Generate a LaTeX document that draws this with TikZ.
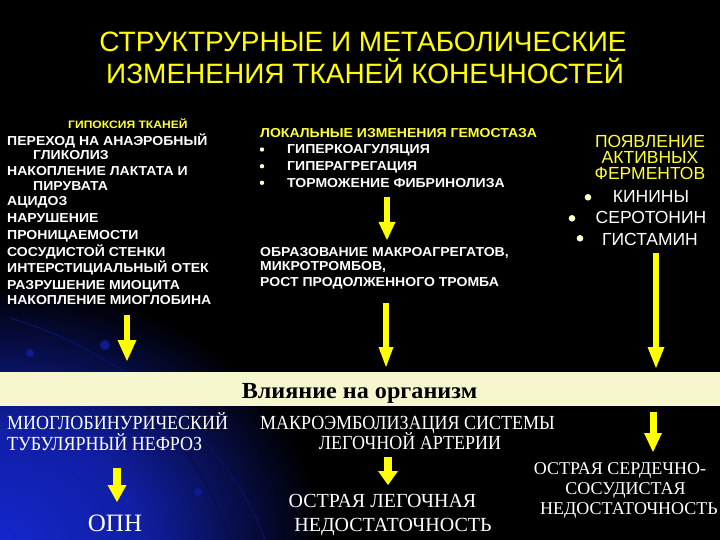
\documentclass[tikz,border=0pt]{standalone}
\usepackage{fontspec}
\setmainfont{Liberation Sans}
\newfontfamily\sanswide[FakeStretch=1.08]{Liberation Sans}
\newfontfamily\sanswidesm[FakeStretch=1.12]{Liberation Sans}
\newfontfamily\serifcyr{Liberation Serif}
\newfontfamily\serifnarrow[FakeStretch=0.9]{Liberation Serif}
\newfontfamily\serifwide[FakeStretch=1.05]{Liberation Serif}
\usetikzlibrary{arrows.meta}
\definecolor{titley}{HTML}{FFFF00}
\definecolor{heady}{HTML}{FFFF33}
\definecolor{bandc}{HTML}{F7F7CF}
\definecolor{bulc}{HTML}{FFFFCC}
\definecolor{glowc}{rgb}{0.08,0.15,0.8}
\definecolor{arry}{HTML}{FFFF00}
\pgfdeclareradialshading{glowsh}{\pgfpoint{0bp}{0bp}}{color(0bp)=(glowc); color(7bp)=(glowc!80!black); color(16bp)=(black); color(50bp)=(black)}
\begin{document}
\begin{tikzpicture}[x=1pt,y=-1pt,
  t/.style={inner sep=0pt, anchor=base west, text=white},
  tc/.style={inner sep=0pt, anchor=base, text=white},
  titlef/.style={font=\fontsize{28}{32}\selectfont},
  bsans/.style={font=\sanswide\fontsize{13}{14}\selectfont\bfseries},
  bsanssm/.style={font=\sanswidesm\fontsize{10.8}{13}\selectfont\bfseries},
  rsans/.style={font=\fontsize{17.5}{20}\selectfont},
  sern/.style={font=\serifnarrow\fontsize{20}{23}\selectfont},
  ser/.style={font=\serifcyr\fontsize{20}{23}\selectfont},
  sersm/.style={font=\serifcyr\fontsize{18}{21}\selectfont},
  serbig/.style={font=\serifcyr\fontsize{25}{28}\selectfont},
  bandt/.style={font=\serifwide\fontsize{23}{26}\selectfont\bfseries},
  yarr/.style n args={3}{draw=arry, line width=#1, -{Triangle[width=#2, length=#3, line width=0pt]}},
  bul/.style={fill=bulc}
]
\useasboundingbox (0,0) rectangle (720,540);
\fill[black] (0,0) rectangle (720,540);
\begin{scope}
\clip (0,0) rectangle (720,540);
\shade[shading=glowsh] (-500,140) rectangle (500,940);
\draw[glowc!45!black, line width=1.5pt] (10,318) .. controls (120,350) and (230,440) .. (265,540);
\draw[glowc!35!black, line width=1.2pt] (40,345) .. controls (140,380) and (200,450) .. (230,540);
\fill[glowc!70!black] (30,353) circle (4);
\fill[glowc!70!black] (105,345) circle (5);
\fill[glowc!70!black] (198,492) circle (4);
\end{scope}

% title
\node[tc, titlef, text=titley] (t1) at (363,51.7) {СТРУКТРУРНЫЕ И МЕТАБОЛИЧЕСКИЕ};
\node[tc, titlef, text=titley] (t2) at (365,83.3) {ИЗМЕНЕНИЯ ТКАНЕЙ КОНЕЧНОСТЕЙ};

% left column
\node[t, bsanssm, text=heady] (hyp) at (68,129) {ГИПОКСИЯ ТКАНЕЙ};
\node[t, bsans] (l1) at (7,145.5) {ПЕРЕХОД НА АНАЭРОБНЫЙ};
\node[t, bsans] (l2) at (33,159.8) {ГЛИКОЛИЗ};
\node[t, bsans] (l3) at (7,176) {НАКОПЛЕНИЕ ЛАКТАТА И};
\node[t, bsans] (l4) at (33,190.3) {ПИРУВАТА};
\node[t, bsans] (l5) at (7,205.7) {АЦИДОЗ};
\node[t, bsans] (l6) at (7,222.3) {НАРУШЕНИЕ};
\node[t, bsans] (l7) at (7,239.3) {ПРОНИЦАЕМОСТИ};
\node[t, bsans] (l8) at (7,256) {СОСУДИСТОЙ СТЕНКИ};
\node[t, bsans] (l9) at (7,272.3) {ИНТЕРСТИЦИАЛЬНЫЙ ОТЕК};
\node[t, bsans] (l10) at (7,289) {РАЗРУШЕНИЕ МИОЦИТА};
\node[t, bsans] (l11) at (7,304.5) {НАКОПЛЕНИЕ МИОГЛОБИНА};

% middle column
\node[t, bsans, text=heady] (gem) at (260,137.3) {ЛОКАЛЬНЫЕ ИЗМЕНЕНИЯ ГЕМОСТАЗА};
\fill[bul] (262,149.5) circle (2.2);
\fill[bul] (262,166.2) circle (2.2);
\fill[bul] (262,182.8) circle (2.2);
\node[t, bsans] (g1) at (287,154) {ГИПЕРКОАГУЛЯЦИЯ};
\node[t, bsans] (g2) at (287,170.7) {ГИПЕРАГРЕГАЦИЯ};
\node[t, bsans] (g3) at (287,187.3) {ТОРМОЖЕНИЕ ФИБРИНОЛИЗА};
\node[t, bsans] (m1) at (260,256) {ОБРАЗОВАНИЕ МАКРОАГРЕГАТОВ,};
\node[t, bsans] (m2) at (260,270.7) {МИКРОТРОМБОВ,};
\node[t, bsans] (m3) at (260,286) {РОСТ ПРОДОЛЖЕННОГО ТРОМБА};

% right column
\node[tc, rsans, text=heady] (r1) at (650,147.5) {ПОЯВЛЕНИЕ};
\node[tc, rsans, text=heady] (r2) at (650,163.5) {АКТИВНЫХ};
\node[tc, rsans, text=heady] (r3) at (650,179.5) {ФЕРМЕНТОВ};
\fill[bul] (588,197.3) circle (3.3);
\fill[bul] (572,218.3) circle (3.3);
\fill[bul] (580,238.3) circle (3.3);
\node[tc, rsans] (k1) at (651,202.5) {КИНИНЫ};
\node[tc, rsans] (k2) at (651,224) {СЕРОТОНИН};
\node[tc, rsans] (k3) at (650,245) {ГИСТАМИН};

% band
\fill[bandc] (0,372) rectangle (720,406);
\node[tc, bandt, text=black] (band) at (359.5,398.3) {Влияние на организм};

% bottom texts
\node[t, sern] (b1) at (7,429.5) {МИОГЛОБИНУРИЧЕСКИЙ};
\node[t, sern] (b2) at (7,450) {ТУБУЛЯРНЫЙ НЕФРОЗ};
\node[tc, serbig] (opn) at (115,531.6) {ОПН};
\node[tc, sern] (c1) at (407.5,429) {МАКРОЭМБОЛИЗАЦИЯ СИСТЕМЫ};
\node[tc, sern] (c2) at (410,449) {ЛЕГОЧНОЙ АРТЕРИИ};
\node[tc, ser] (c3) at (382.5,507) {ОСТРАЯ ЛЕГОЧНАЯ};
\node[tc, ser] (c4) at (393,531) {НЕДОСТАТОЧНОСТЬ};
\node[tc, sersm] (d1) at (620,474.5) {ОСТРАЯ СЕРДЕЧНО-};
\node[tc, sersm] (d2) at (625.5,494.5) {СОСУДИСТАЯ};
\node[tc, sersm] (d3) at (629,514.5) {НЕДОСТАТОЧНОСТЬ};

% arrow coordinates
\coordinate (a1s) at (127,315);   \coordinate (a1e) at (127,361);
\coordinate (a2s) at (387,197);   \coordinate (a2e) at (387,240);
\coordinate (a3s) at (386,303);   \coordinate (a3e) at (386,367);
\coordinate (a4s) at (656,253);   \coordinate (a4e) at (656,368);
\coordinate (a5s) at (117,468);   \coordinate (a5e) at (117,502);
\coordinate (a6s) at (388,457);   \coordinate (a6e) at (388,485);
\coordinate (a7s) at (653,412);   \coordinate (a7e) at (653,452);

\draw[yarr={6.5pt}{19pt}{21pt}] (a1s) -- (a1e);
\draw[yarr={6pt}{17pt}{18pt}] (a2s) -- (a2e);
\draw[yarr={6pt}{15pt}{20pt}] (a3s) -- (a3e);
\draw[yarr={6pt}{17pt}{21pt}] (a4s) -- (a4e);
\draw[yarr={8pt}{19pt}{17pt}] (a5s) -- (a5e);
\draw[yarr={8pt}{20pt}{14pt}] (a6s) -- (a6e);
\draw[yarr={7pt}{18pt}{19pt}] (a7s) -- (a7e);
\end{tikzpicture}
\end{document}
